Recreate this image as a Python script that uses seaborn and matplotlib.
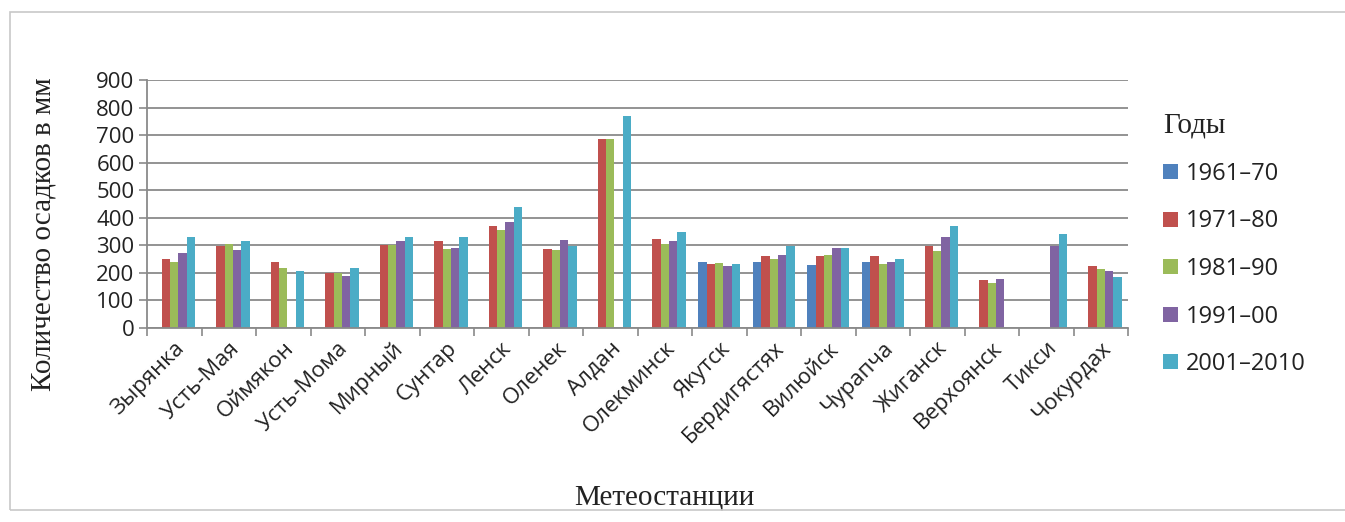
import numpy as np
import pandas as pd
import matplotlib
matplotlib.use("Agg")
import matplotlib.pyplot as plt
from matplotlib.patches import Patch, Rectangle
import seaborn as sns

# Weather stations and decadal mean precipitation (mm); NaN = no data for that decade
stations = ["Зырянка", "Усть-Мая", "Оймякон", "Усть-Мома", "Мирный", "Сунтар",
            "Ленск", "Оленек", "Алдан", "Олекминск", "Якутск", "Бердигястях",
            "Вилюйск", "Чурапча", "Жиганск", "Верхоянск", "Тикси", "Чокурдах"]
periods = ["1961–70", "1971–80", "1981–90", "1991–00", "2001–2010"]

p1961_70 = [np.nan, np.nan, np.nan, np.nan, np.nan, np.nan, np.nan, np.nan, np.nan,
            np.nan, 238, 238, 227, 238, np.nan, np.nan, np.nan, np.nan]
p1971_80 = [251, 299, 238, 200, 300, 314, 369, 287, 687, 323, 232, 260, 260, 260,
            298, 173, np.nan, 224]
p1981_90 = [238, 306, 218, 200, 300, 287, 357, 282, 687, 305, 235, 250, 265, 232,
            280, 163, np.nan, 215]
p1991_00 = [274, 284, np.nan, 187, 314, 290, 385, 318, np.nan, 314, 224, 265, 289, 238,
            329, 179, 298, 206]
p2001_10 = [329, 314, 206, 218, 332, 332, 438, 299, 768, 347, 232, 296, 289, 250,
            369, np.nan, 342, 184]

colors = ["#4F81BD", "#C0504D", "#9BBB59", "#8064A2", "#4BACC6"]

series = [p1961_70, p1971_80, p1981_90, p1991_00, p2001_10]
df = pd.DataFrame({
    "station": np.tile(stations, len(periods)),
    "period": np.repeat(periods, len(stations)),
    "value": np.concatenate([np.asarray(s, dtype=float) for s in series]),
}).dropna()

sns.set_theme(style="white")
sans = ["Open Sans", "DejaVu Sans"]
serif = ["Liberation Serif", "DejaVu Serif"]
plt.rcParams["font.family"] = sans

fig = plt.figure(figsize=(13.45, 5.22), dpi=100)
ax = fig.add_axes([0.1093, 0.3716, 0.7294, 0.4751])

sns.barplot(data=df, x="station", y="value", hue="period",
            order=stations, hue_order=periods, palette=colors,
            width=0.77, saturation=1, gap=0, legend=False, ax=ax,
            linewidth=0, errorbar=None)

grid_c = "#8a8a8a"
text_c = "#222222"
ax.set_ylim(0, 900)
ax.set_xlim(-0.5, len(stations) - 0.5)
ax.set_yticks(np.arange(0, 901, 100))
ax.yaxis.grid(True, color=grid_c, linewidth=1.3)
ax.set_axisbelow(True)
for s in ["top", "right"]:
    ax.spines[s].set_visible(False)
for s in ["left", "bottom"]:
    ax.spines[s].set_color(grid_c)
    ax.spines[s].set_linewidth(1.3)

ax.tick_params(axis="y", which="major", direction="out", length=6, width=1.2,
               color=grid_c, labelsize=16, labelcolor=text_c, pad=3, left=True)
ax.set_xticks(np.arange(len(stations)))
ax.set_xticks(np.arange(len(stations) + 1) - 0.5, minor=True)
ax.tick_params(axis="x", which="major", length=0, pad=7)
ax.tick_params(axis="x", which="minor", direction="out", length=6, width=1.2,
               color=grid_c, bottom=True)
ax.set_xticklabels(stations, rotation=45, ha="right", rotation_mode="anchor",
                   fontsize=16, color=text_c)

ax.set_xlabel("Метеостанции", family=serif, fontsize=21, color=text_c)
ax.set_ylabel("Количество осадков в мм", family=serif, fontsize=21, color=text_c)
ax.xaxis.set_label_coords(0.527, -0.63)
ax.yaxis.set_label_coords(-0.092, 0.378)

handles = [Patch(facecolor=c, edgecolor="none") for c in colors]
leg = fig.legend(handles, periods, loc="upper left", bbox_to_anchor=(0.865, 0.785),
                 frameon=False, fontsize=17, handlelength=0.6, handleheight=0.6,
                 handletextpad=0.35, labelspacing=1.0, borderpad=0,
                 borderaxespad=0, alignment="left")
for t in leg.get_texts():
    t.set_color(text_c)
leg.set_title("Годы", prop={"family": serif, "size": 21})
leg.get_title().set_color(text_c)

# light frame around the chart area
fig.add_artist(Rectangle((10 / 1345, 1 - 510 / 522), 1.2, (510 - 12) / 522,
                         transform=fig.transFigure, fill=False,
                         edgecolor="#c8c8c8", linewidth=1.2))

fig.savefig("out.png", dpi=100, facecolor="white")
